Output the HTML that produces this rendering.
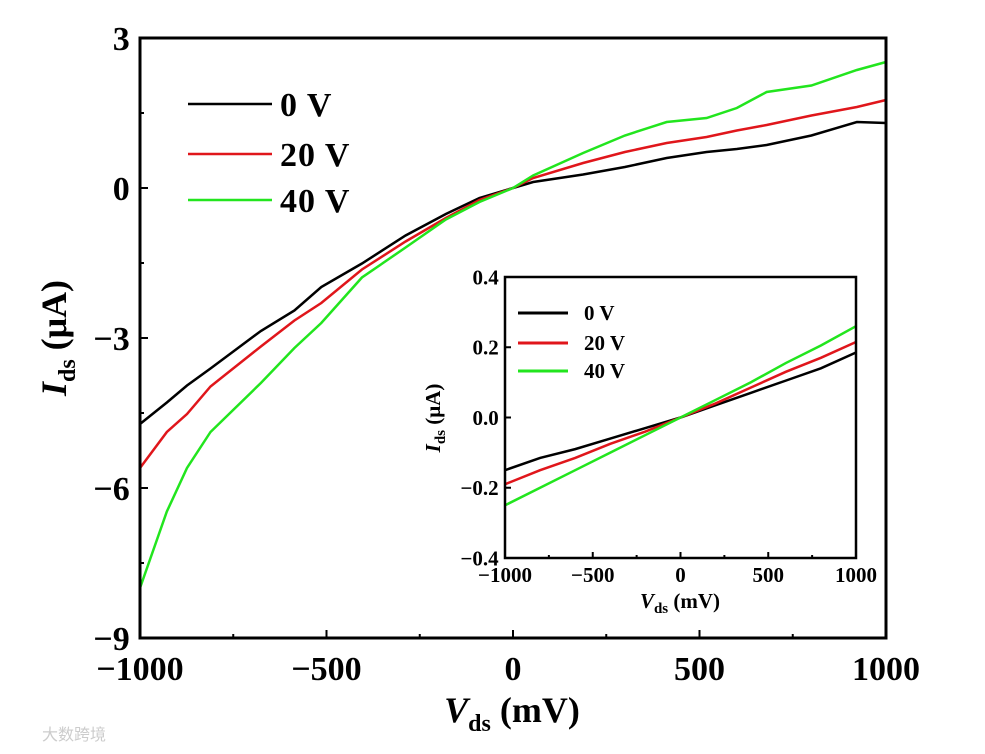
<!DOCTYPE html>
<html><head><meta charset="utf-8"><style>
body{margin:0;background:#fff;}
svg{display:block;font-family:"Liberation Serif",serif;font-weight:bold;}
</style></head><body>
<svg id="chart" width="985" height="754">
<g id="main"></g><g id="inset"></g>
<text x="42" y="740" font-family="Liberation Sans,Noto Sans CJK SC,sans-serif" font-size="16" fill="#ccc" font-weight="normal">大数跨境</text>
</svg>
<script>
const mainX = [-1000,-928,-874,-811,-676,-586,-514,-405,-288,-180,-90,0,54,188,300,412,519,600,680,800,922,1000];
const mainBlack = [-4.72,-4.29,-3.95,-3.61,-2.86,-2.45,-1.98,-1.51,-0.95,-0.52,-0.2,0,0.12,0.27,0.42,0.6,0.72,0.78,0.86,1.05,1.32,1.3];
const mainRed = [-5.6,-4.88,-4.52,-3.97,-3.17,-2.65,-2.3,-1.63,-1.07,-0.6,-0.24,0,0.2,0.5,0.72,0.9,1.02,1.15,1.26,1.45,1.62,1.76];
const mainGreen = [-8.0,-6.47,-5.6,-4.88,-3.9,-3.2,-2.7,-1.79,-1.19,-0.63,-0.28,0,0.25,0.7,1.05,1.32,1.4,1.6,1.92,2.05,2.36,2.52];
const insetX = [-1000,-800,-600,-400,-200,0,200,400,600,800,1000];
const insetBlack = [-0.15,-0.115,-0.09,-0.06,-0.03,0,0.035,0.07,0.105,0.14,0.185];
const insetRed = [-0.19,-0.15,-0.115,-0.075,-0.04,0,0.04,0.085,0.13,0.17,0.215];
const insetGreen = [-0.25,-0.2,-0.15,-0.1,-0.05,0,0.05,0.1,0.155,0.205,0.26];
const mainYTicks = [3,0,-3,-6,-9];
const mainXTicks = [-1000,-500,0,500,1000];
const insetYTicks = [0.4,0.2,0.0,-0.2,-0.4];
const insetXTicks = [-1000,-500,0,500,1000];
const legendLabels = ["0 V","20 V","40 V"];
const colors = ["#000","#e0161b","#22e51e"];
const NS="http://www.w3.org/2000/svg";
function mk(parent,tag,attrs,text){const e=document.createElementNS(NS,tag);for(const k in attrs)e.setAttribute(k,attrs[k]);if(text!==undefined)e.textContent=text;parent.appendChild(e);return e;}
function fmt(v,d){let s=v.toFixed(d);return s.replace('-','\u2212');}
function drawPlot(g,box,xd,yd,xt,yt,dec,xs,series,fs,lw,minorY,tickLen,xoff){
  const sx=v=>box.l+(v-xd[0])/(xd[1]-xd[0])*(box.r-box.l);
  const sy=v=>box.b-(v-yd[0])/(yd[1]-yd[0])*(box.b-box.t);
  series.forEach((s,i)=>{
    const p=mk(g,'polyline',{points:xs.map((x,j)=>sx(x)+','+sy(s[j])).join(' '),fill:'none',stroke:colors[i],'stroke-width':lw});
    
    
  });
  const r=mk(g,'rect',{x:box.l,y:box.t,width:box.r-box.l,height:box.b-box.t,fill:'none',stroke:'#000','stroke-width':fs>25?3:2.5});
  
  
  xt.forEach((v,i)=>{
    const x=sx(v);
    mk(g,'line',{x1:x,x2:x,y1:box.b,y2:box.b-tickLen,stroke:'#000','stroke-width':2});
    if(i<xt.length-1){const xm=sx((v+xt[i+1])/2);mk(g,'line',{x1:xm,x2:xm,y1:box.b,y2:box.b-tickLen/2,stroke:'#000','stroke-width':2});}
    const t=mk(g,'text',{x:x,y:box.b+xoff,'text-anchor':'middle','font-size':fs},fmt(v,0));
    
    
  });
  yt.forEach((v,i)=>{
    const y=sy(v);
    mk(g,'line',{x1:box.l,x2:box.l+tickLen,y1:y,y2:y,stroke:'#000','stroke-width':2});
    if(minorY&&i<yt.length-1){const ym=sy((v+yt[i+1])/2);mk(g,'line',{x1:box.l,x2:box.l+tickLen/2,y1:ym,y2:ym,stroke:'#000','stroke-width':2});}
    const t=mk(g,'text',{x:box.l-fs*0.3,y:y+fs*0.35,'text-anchor':'end','font-size':fs},fmt(v,dec));
    
    
  });
}
const gm=document.getElementById('main'), gi=document.getElementById('inset');
drawPlot(gm,{l:140,r:886,t:38,b:638},[-1000,1000],[-9,3],mainXTicks,mainYTicks,0,mainX,[mainBlack,mainRed,mainGreen],34,2.5,true,8,42);
legendLabels.forEach((l,i)=>{
  const y=[104,154,200][i];
  const ln=mk(gm,'line',{x1:188,x2:272,y1:y,y2:y,stroke:colors[i],'stroke-width':2.5});
  
  
  const t=mk(gm,'text',{x:280,y:y+12,'font-size':34,'letter-spacing':1},l);
  
  
});
let t=mk(gm,'text',{transform:'translate(66,338) rotate(-90)','text-anchor':'middle','font-size':36},'');
t.innerHTML='<tspan font-style="italic">I</tspan><tspan font-size="24" dy="9">ds</tspan><tspan dy="-9"> (μA)</tspan>';


t=mk(gm,'text',{x:512,y:722,'text-anchor':'middle','font-size':36},'');
t.innerHTML='<tspan font-style="italic">V</tspan><tspan font-size="24" dy="9">ds</tspan><tspan dy="-9"> (mV)</tspan>';


mk(gi,'rect',{x:505,y:277,width:351,height:281,fill:'#fff'});
drawPlot(gi,{l:505,r:856,t:277,b:558},[-1000,1000],[-0.4,0.4],insetXTicks,insetYTicks,1,insetX,[insetBlack,insetRed,insetGreen],21,2.5,false,6,24);
legendLabels.forEach((l,i)=>{
  const y=[313,343,371][i];
  const ln=mk(gi,'line',{x1:518,x2:568,y1:y,y2:y,stroke:colors[i],'stroke-width':3});
  
  
  const tt=mk(gi,'text',{x:584,y:y+7,'font-size':21},l);
  
  
});
t=mk(gi,'text',{transform:'translate(440,418) rotate(-90)','text-anchor':'middle','font-size':21},'');
t.innerHTML='<tspan font-style="italic">I</tspan><tspan font-size="15" dy="5">ds</tspan><tspan dy="-5"> (μA)</tspan>';


t=mk(gi,'text',{x:680,y:608,'text-anchor':'middle','font-size':21},'');
t.innerHTML='<tspan font-style="italic">V</tspan><tspan font-size="15" dy="5">ds</tspan><tspan dy="-5"> (mV)</tspan>';


</script>
</body></html>
